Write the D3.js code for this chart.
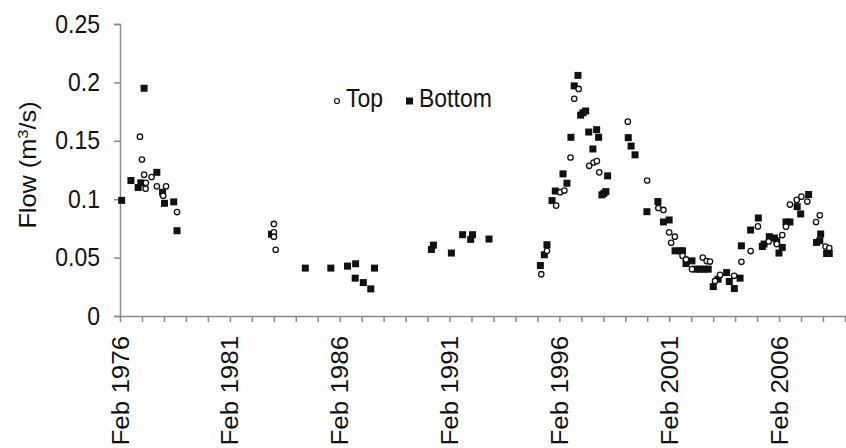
<!DOCTYPE html>
<html>
<head>
<meta charset="utf-8">
<script src="https://cdn.jsdelivr.net/npm/d3@7"></script>
<style>
  body { margin: 0; background: #fff; }
  text { font-family: "Liberation Sans", Arial, sans-serif; fill: #111; }
</style>
</head>
<body>
<svg id="chart" width="846" height="448"></svg>
<script>
// decimal years (Feb 1976 = 1976.08) and flows
const topYears = [1976.99, 1977.08, 1977.18, 1977.26, 1977.25, 1977.52, 1977.76, 1978.05, 1978.18, 1978.68,
  1983.09, 1983.09, 1983.09, 1983.17,
  1995.26, 1995.52, 1995.94, 1996.12, 1996.31, 1996.59, 1996.76, 1996.96, 1997.44, 1997.64, 1997.79, 1997.90,
  1999.20, 2000.08, 2000.59, 2000.82, 2001.08, 2001.17, 2001.34, 2001.69, 2001.85, 2002.12, 2002.61, 2002.79,
  2002.94, 2003.17, 2003.40, 2004.04, 2004.37, 2004.79, 2005.12, 2005.61, 2005.98, 2006.23, 2006.40, 2006.58,
  2006.89, 2007.10, 2007.37, 2007.77, 2007.94, 2008.20, 2008.37]
const topFlow = [0.1535, 0.134, 0.121, 0.114, 0.109, 0.119, 0.111, 0.103, 0.111, 0.089,
  0.0788, 0.0716, 0.0679, 0.0567,
  0.0358, 0.0558, 0.0945, 0.106, 0.1074, 0.1357, 0.186, 0.1944, 0.1286, 0.1314, 0.1326, 0.123,
  0.1664, 0.116, 0.0925, 0.0908, 0.0716, 0.0627, 0.0679, 0.0515, 0.0484, 0.0401, 0.0501, 0.047,
  0.0466, 0.030, 0.0352, 0.0344, 0.0464, 0.0556, 0.0767, 0.0638, 0.0616, 0.0693, 0.0765, 0.0954,
  0.0994, 0.1022, 0.098, 0.0805, 0.0862, 0.0595, 0.0582]

const bottomYears = [1976.16, 1976.58, 1976.91, 1977.03, 1977.18, 1977.76, 1978.02, 1978.11, 1978.53, 1978.68,
  1982.98, 1984.52, 1985.68, 1986.44, 1986.81, 1986.79, 1987.16, 1987.50, 1987.67,
  1990.26, 1990.35, 1991.17, 1991.68, 1992.05, 1992.13, 1992.88,
  1995.22, 1995.40, 1995.52, 1995.75, 1995.90, 1996.25, 1996.43, 1996.61, 1996.76, 1996.93, 1997.05, 1997.16,
  1997.28, 1997.42, 1997.61, 1997.78, 1997.87, 1998.02, 1998.11, 1998.20, 1998.28, 1999.22, 1999.35, 1999.53,
  2000.07, 2000.57, 2000.82, 2001.08, 2001.35, 2001.58, 2001.69, 2001.85, 2002.12, 2002.30, 2002.49, 2002.67,
  2002.86, 2003.09, 2003.31, 2003.70, 2003.82, 2004.05, 2004.31, 2004.37, 2004.79, 2005.14, 2005.32, 2005.40,
  2005.64, 2005.87, 2005.98, 2006.08, 2006.23, 2006.40, 2006.58, 2006.91, 2007.07, 2007.43, 2007.79, 2007.94,
  2007.98, 2008.25, 2008.37]
const bottomFlow = [0.099, 0.116, 0.110, 0.114, 0.195, 0.123, 0.106, 0.0965, 0.0977, 0.073,
  0.070, 0.041, 0.041, 0.0427, 0.0447, 0.0324, 0.0286, 0.0232, 0.041,
  0.057, 0.0607, 0.0539, 0.0696, 0.0656, 0.0696, 0.0659,
  0.0432, 0.0524, 0.061, 0.0988, 0.107, 0.1217, 0.1137, 0.153, 0.197, 0.206, 0.172, 0.174,
  0.1755, 0.1575, 0.143, 0.1595, 0.153, 0.1037, 0.105, 0.1065, 0.12, 0.1527, 0.1455, 0.138,
  0.0893, 0.098, 0.0805, 0.0822, 0.0558, 0.0558, 0.0558, 0.0449, 0.0472, 0.0401, 0.0401, 0.0401,
  0.0401, 0.0252, 0.0315, 0.0372, 0.0295, 0.0235, 0.0324, 0.0601, 0.0736, 0.0839, 0.0595, 0.0616,
  0.0679, 0.0668, 0.0644, 0.0539, 0.0587, 0.0805, 0.0805, 0.0936, 0.0874, 0.104, 0.063, 0.0644,
  0.0702, 0.0535, 0.0535]

const yTicks = [0, 0.05, 0.1, 0.15, 0.2, 0.25]
const labelYears = [1976, 1981, 1986, 1991, 1996, 2001, 2006]

function toDate(yr) {
  const y = Math.floor(yr)
  const start = new Date(y, 0, 1), end = new Date(y + 1, 0, 1)
  return new Date(+start + (yr - y) * (end - start))
}

const svg = d3.select('#chart')

const x = d3.scaleTime()
  .domain([new Date(1976, 1, 1), new Date(2009, 1, 1)])
  .range([120, 845])

const y = d3.scaleLinear()
  .domain([0, 0.25])
  .range([316, 24])

const axisColor = '#8a8a8a'
const fs = 23
const stretch = 1.1   // the original text is a bit taller than wide

// Y axis
const yAxis = svg.append('g')
  .attr('transform', 'translate(120,0)')
  .call(d3.axisLeft(y).tickValues(yTicks).tickSize(6).tickPadding(14)
    .tickFormat(d => d === 0 ? '0' : String(+d.toFixed(2))))
yAxis.selectAll('text')
  .attr('font-size', fs)
  .attr('font-family', 'Liberation Sans, Arial, sans-serif')
  .attr('transform', `scale(1,${stretch})`)
  .attr('dy', '0.32em')
yAxis.selectAll('line, path').attr('stroke', axisColor).attr('stroke-width', 1.5)

// X axis, yearly ticks, labels every 5 years
const yearTicks = d3.range(1976, 2010).map(yr => new Date(yr, 1, 1))
const xAxis = svg.append('g')
  .attr('transform', 'translate(0,316)')
  .call(d3.axisBottom(x).tickValues(yearTicks).tickSize(6).tickSizeOuter(0)
    .tickFormat(d => labelYears.includes(d.getFullYear()) ? 'Feb ' + d.getFullYear() : ''))
xAxis.selectAll('line, path').attr('stroke', axisColor).attr('stroke-width', 1.5)
xAxis.selectAll('text')
  .attr('font-size', fs)
  .attr('font-family', 'Liberation Sans, Arial, sans-serif')
  .attr('text-anchor', 'end')
  .attr('transform', 'scale(1,1.13) rotate(-90)')
  .attr('x', -17.5)
  .attr('y', 0)
  .attr('dy', '0.35em')

// Y label
svg.append('text')
  .attr('transform', `translate(36,165) scale(1,${stretch}) rotate(-90)`)
  .attr('text-anchor', 'middle')
  .attr('font-size', fs)
  .html('Flow (m<tspan baseline-shift="super" font-size="15">3</tspan>/s)')

// Bottom series: filled squares
const sq = 7
svg.append('g')
  .selectAll('rect')
  .data(d3.zip(bottomYears, bottomFlow))
  .join('rect')
  .attr('x', d => x(toDate(d[0])) - sq / 2)
  .attr('y', d => y(d[1]) - sq / 2)
  .attr('width', sq)
  .attr('height', sq)
  .attr('fill', '#111')

// Top series: open circles
svg.append('g')
  .selectAll('circle')
  .data(d3.zip(topYears, topFlow))
  .join('circle')
  .attr('cx', d => x(toDate(d[0])))
  .attr('cy', d => y(d[1]))
  .attr('r', 2.7)
  .attr('fill', '#fff')
  .attr('stroke', '#111')
  .attr('stroke-width', 1.3)

// Legend
const legend = svg.append('g')
legend.append('circle')
  .attr('cx', 337).attr('cy', 101).attr('r', 2.5)
  .attr('fill', '#fff').attr('stroke', '#111').attr('stroke-width', 1.2)
legend.append('text')
  .attr('transform', `translate(346,107) scale(1,${stretch})`)
  .attr('font-size', fs).text('Top')
legend.append('rect')
  .attr('x', 406).attr('y', 97.5).attr('width', 7).attr('height', 7).attr('fill', '#111')
legend.append('text')
  .attr('transform', `translate(419,107) scale(1,${stretch})`)
  .attr('font-size', fs).text('Bottom')
</script>
</body>
</html>
